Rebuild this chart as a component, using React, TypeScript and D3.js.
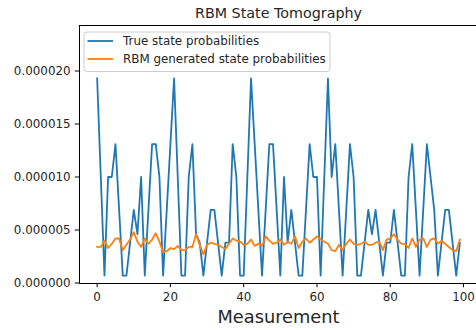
import * as d3 from "d3";

// values in units of 1e-6
const measurements = d3.range(100);

const trueProbs = [
  19.3, 10.0, 0.7, 10.0, 10.0, 13.1, 6.9, 0.7, 0.7, 3.8,
  6.9, 4.6, 10.0, 0.7, 6.9, 13.1, 13.1, 10.0, 0.7, 6.9,
  13.1, 19.3, 10.0, 0.7, 0.7, 10.0, 13.1, 4.6, 3.8, 0.7,
  3.8, 6.9, 6.9, 3.8, 0.7, 3.8, 3.8, 13.1, 10.0, 0.7,
  0.7, 10.0, 19.3, 13.1, 6.9, 0.7, 6.9, 13.1, 13.1, 6.9,
  0.7, 10.0, 3.8, 6.9, 3.8, 0.7, 0.7, 6.9, 13.1, 10.0,
  10.0, 0.7, 10.0, 19.3, 10.0, 13.1, 6.9, 0.7, 6.9, 13.1,
  10.0, 0.7, 0.7, 3.8, 6.9, 4.6, 6.9, 3.8, 0.7, 3.8,
  3.8, 6.9, 3.8, 0.7, 0.7, 10.0, 13.1, 6.9, 0.7, 6.9,
  13.1, 10.0, 6.9, 0.7, 3.8, 6.9, 6.9, 3.8, 0.7, 3.8,
];

const rbmProbs = [
  3.4, 3.4, 4.0, 3.3, 3.7, 4.2, 4.2, 3.1, 3.6, 4.1,
  4.8, 3.9, 3.4, 4.2, 3.7, 4.1, 4.7, 3.9, 2.9, 3.0,
  3.3, 3.2, 3.5, 3.1, 3.1, 3.4, 3.4, 4.6, 3.6, 2.7,
  3.6, 3.8, 3.7, 3.6, 3.4, 3.2, 3.7, 4.2, 4.0, 3.9,
  3.6, 3.7, 4.1, 3.5, 3.7, 3.5, 4.4, 4.0, 3.7, 3.8,
  4.1, 3.6, 3.9, 3.7, 4.4, 3.3, 3.9, 4.2, 3.8, 4.1,
  4.4, 4.1, 3.9, 3.7, 3.1, 3.0, 3.6, 3.1, 3.7, 4.1,
  3.7, 3.6, 3.7, 3.9, 3.6, 3.6, 3.8, 3.9, 3.1, 4.1,
  4.2, 4.6, 4.1, 3.7, 3.7, 3.3, 4.2, 3.4, 4.1, 4.2,
  3.4, 4.1, 4.2, 3.7, 4.0, 3.7, 3.4, 3.1, 3.0, 4.1,
];

const xTicks = [0, 20, 40, 60, 80, 100];
const yTicks = [0, 5, 10, 15, 20];
const seriesNames = ["True state probabilities", "RBM generated state probabilities"];
const seriesColors = ["#1f77b4", "#ff7f0e"];

const W = 476;
const H = 330;
const left = 79;
const right = 478;
const top = 25;
const bottom = 283;
const font = "DejaVu Sans, sans-serif";
const txt = "#262626";

export default function App() {
  const x = d3.scaleLinear().domain([-4.95, 103.95]).range([left, right]);
  const y = d3.scaleLinear().domain([0, 24.34]).range([bottom, top]);

  const line = d3
    .line<number>()
    .x((_, i) => x(measurements[i]))
    .y((d) => y(d));

  const series = [trueProbs, rbmProbs];
  const fmt = d3.format(".6f");

  return (
    <svg
      width={W}
      height={H}
      style={{ position: "fixed", left: 0, top: 0, background: "#fff" }}
      fontFamily={font}
    >
      <defs>
        <clipPath id="plot">
          <rect x={left} y={top} width={right - left} height={bottom - top} />
        </clipPath>
      </defs>

      <g clipPath="url(#plot)">
        {series.map((s, k) => (
          <path
            key={k}
            d={line(s) ?? ""}
            fill="none"
            stroke={seriesColors[k]}
            strokeWidth={1.8}
            strokeLinejoin="round"
            strokeLinecap="square"
          />
        ))}
      </g>

      {/* spines */}
      <rect
        x={left}
        y={top}
        width={right - left}
        height={bottom - top}
        fill="none"
        stroke="#000"
        strokeWidth={1}
        shapeRendering="crispEdges"
      />

      {/* x axis */}
      {xTicks.map((t) => (
        <g key={t} transform={`translate(${x(t)},${bottom})`}>
          <line y2={4.2} stroke="#000" strokeWidth={1} />
          <text y={18} textAnchor="middle" fontSize={11.9} fill={txt}>
            {t}
          </text>
        </g>
      ))}

      {/* y axis */}
      {yTicks.map((t) => (
        <g key={t} transform={`translate(${left},${y(t)})`}>
          <line x2={-4.2} stroke="#000" strokeWidth={1} />
          <text x={-8.4} dy="0.35em" textAnchor="end" fontSize={11.9} fill={txt}>
            {fmt(t * 1e-6)}
          </text>
        </g>
      ))}

      <text x={(left + right) / 2} y={18} textAnchor="middle" fontSize={14.3} fill={txt}>
        RBM State Tomography
      </text>
      <text x={(left + right) / 2} y={323} textAnchor="middle" fontSize={17.8} fill={txt}>
        Measurement
      </text>

      {/* legend */}
      <g>
        <rect
          x={84}
          y={32}
          width={246}
          height={39.5}
          rx={3}
          fill="#fff"
          fillOpacity={0.8}
          stroke="#cccccc"
          strokeWidth={1}
        />
        {seriesNames.map((name, k) => (
          <g key={name} transform={`translate(0,${41 + k * 18})`}>
            <line x1={87.5} x2={113} stroke={seriesColors[k]} strokeWidth={1.8} />
            <text x={123} dy="0.35em" fontSize={11.9} fill={txt}>
              {name}
            </text>
          </g>
        ))}
      </g>
    </svg>
  );
}
